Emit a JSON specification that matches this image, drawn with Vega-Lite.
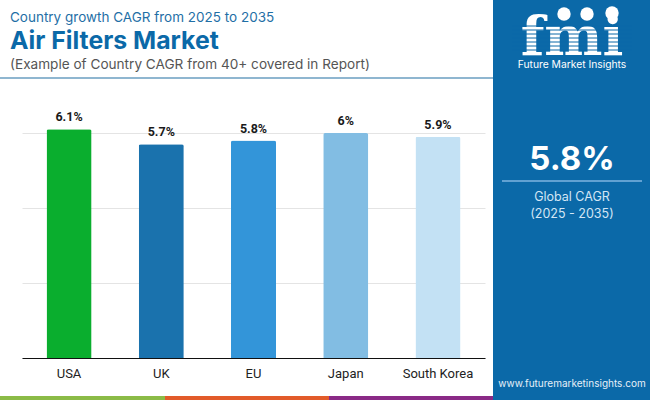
{
"$schema":"https://vega.github.io/schema/vega-lite/v6.json",
"width":463,"height":225,
"autosize":{"type":"none"},
"padding":{"left":22,"top":133,"right":165,"bottom":42},
"background":"white",
"config":{"view":{"stroke":null}},
"datasets":{
"bars":[
{"country":"USA","cagr":6.1,"label":"6.1%"},
{"country":"UK","cagr":5.7,"label":"5.7%"},
{"country":"EU","cagr":5.8,"label":"5.8%"},
{"country":"Japan","cagr":6.0,"label":"6%"},
{"country":"South Korea","cagr":5.9,"label":"5.9%"}]
},
"layer":[
{"data":{"name":"bars"},"mark":{"type":"bar","cornerRadiusTopLeft":2,"cornerRadiusTopRight":2},
 "encoding":{
  "x":{"field":"country","type":"nominal","sort":null,"scale":{"paddingInner":0.512,"paddingOuter":0.266},
   "axis":{"title":null,"labelAngle":0,"labelFont":"Roboto","labelFontSize":13,"labelColor":"#222222","labelPadding":9,"ticks":false,"domainColor":"#111111","domainWidth":1}},
  "y":{"field":"cagr","type":"quantitative","scale":{"domain":[0,6],"nice":false},
   "axis":{"title":null,"labels":false,"ticks":false,"domain":false,"values":[0,2,4,6],"grid":true,"gridColor":"#e4e4e4","gridWidth":1}},
  "color":{"field":"country","type":"nominal","sort":null,"legend":null,
   "scale":{"domain":["USA","UK","EU","Japan","South Korea"],"range":["#0aae2e","#1a72ad","#3395d9","#82bde3","#c3e1f4"]}}}},
{"data":{"name":"bars"},"mark":{"type":"text","font":"Roboto","fontWeight":"bold","fontSize":12.5,"color":"#1a1a1a","dy":-12},
 "encoding":{"x":{"field":"country","type":"nominal","sort":null},"y":{"field":"cagr","type":"quantitative"},"text":{"field":"label"}}},
{"data":{"values":[{"p":"panel"}]},"mark":{"type":"rect","color":"#0b69a8"},
 "encoding":{"x":{"value":471},"x2":{"value":628},"y":{"value":-133},"y2":{"value":267}}},
{"data":{"values":[{"p":"green"}]},"mark":{"type":"rect","color":"#8bbb47"},
 "encoding":{"x":{"value":-22},"x2":{"value":143},"y":{"value":263},"y2":{"value":267}}},
{"data":{"values":[{"p":"orange"}]},"mark":{"type":"rect","color":"#e25b2a"},
 "encoding":{"x":{"value":143},"x2":{"value":307},"y":{"value":263},"y2":{"value":267}}},
{"data":{"values":[{"p":"purple"}]},"mark":{"type":"rect","color":"#8a2a86"},
 "encoding":{"x":{"value":307},"x2":{"value":471},"y":{"value":263},"y2":{"value":267}}},
{"data":{"values":[{"p":"rule"}]},"mark":{"type":"rule","color":"#8fb6d0","strokeWidth":2},
 "encoding":{"x":{"value":-22},"x2":{"value":471},"y":{"value":-55}}},
{"data":{"values":[{"t":"Country growth CAGR from 2025 to 2035"}]},"mark":{"type":"text","font":"Inter","fontSize":13.5,"color":"#1f6fa6","align":"left","baseline":"alphabetic"},
 "encoding":{"x":{"value":-12},"y":{"value":-111},"text":{"field":"t"}}},
{"data":{"values":[{"t":"Air Filters Market"}]},"mark":{"type":"text","font":"Inter","fontSize":24.8,"fontWeight":"bold","color":"#0b69a8","align":"left","baseline":"alphabetic"},
 "encoding":{"x":{"value":-12},"y":{"value":-84},"text":{"field":"t"}}},
{"data":{"values":[{"t":"(Example of Country CAGR from 40+ covered in Report)"}]},"mark":{"type":"text","font":"Inter","fontSize":13.6,"color":"#555555","align":"left","baseline":"alphabetic"},
 "encoding":{"x":{"value":-12},"y":{"value":-64},"text":{"field":"t"}}},
{"data":{"values":[{"t":"5.8%"}]},"mark":{"type":"text","font":"Inter","fontSize":33,"fontWeight":"bold","color":"white","align":"center","baseline":"alphabetic"},
 "encoding":{"x":{"value":550},"y":{"value":37},"text":{"field":"t"}}},
{"data":{"values":[{"p":"r"}]},"mark":{"type":"rule","color":"#7fb4e0","strokeWidth":1.5},
 "encoding":{"x":{"value":480},"x2":{"value":620},"y":{"value":48}}},
{"data":{"values":[{"t":"Global CAGR"}]},"mark":{"type":"text","font":"Inter","fontSize":12.5,"color":"#d3e6f5","align":"center","baseline":"alphabetic"},
 "encoding":{"x":{"value":550},"y":{"value":68},"text":{"field":"t"}}},
{"data":{"values":[{"t":"(2025 - 2035)"}]},"mark":{"type":"text","font":"Inter","fontSize":12.5,"color":"#d3e6f5","align":"center","baseline":"alphabetic"},
 "encoding":{"x":{"value":550},"y":{"value":85},"text":{"field":"t"}}},
{"data":{"values":[{"t":"www.futuremarketinsights.com"}]},"mark":{"type":"text","font":"Inter","fontSize":10,"color":"#e6f0f8","align":"center","baseline":"alphabetic"},
 "encoding":{"x":{"value":550},"y":{"value":254},"text":{"field":"t"}}},
{"data":{"values":[{"t":"fmi"}]},"mark":{"type":"text","font":"DejaVu Serif","fontWeight":"bold","fontSize":55,"color":"white","align":"center","baseline":"alphabetic"},
 "encoding":{"x":{"value":550},"y":{"value":-78},"text":{"field":"t"}}},
{"data":{"values":[{"p":"s"}]},"mark":{"type":"rule","color":"#0b69a8","strokeWidth":1},"encoding":{"x":{"value":490},"x2":{"value":610},"y":{"value":-107}}},
{"data":{"values":[{"p":"s"}]},"mark":{"type":"rule","color":"#0b69a8","strokeWidth":1},"encoding":{"x":{"value":490},"x2":{"value":610},"y":{"value":-103}}},
{"data":{"values":[{"p":"s"}]},"mark":{"type":"rule","color":"#0b69a8","strokeWidth":1},"encoding":{"x":{"value":490},"x2":{"value":610},"y":{"value":-99}}},
{"data":{"values":[{"p":"s"}]},"mark":{"type":"rule","color":"#0b69a8","strokeWidth":1},"encoding":{"x":{"value":490},"x2":{"value":610},"y":{"value":-95}}},
{"data":{"values":[{"p":"s"}]},"mark":{"type":"rule","color":"#0b69a8","strokeWidth":1},"encoding":{"x":{"value":490},"x2":{"value":610},"y":{"value":-91}}},
{"data":{"values":[{"p":"s"}]},"mark":{"type":"rule","color":"#0b69a8","strokeWidth":1},"encoding":{"x":{"value":490},"x2":{"value":610},"y":{"value":-87}}},
{"data":{"values":[{"p":"s"}]},"mark":{"type":"rule","color":"#0b69a8","strokeWidth":1},"encoding":{"x":{"value":490},"x2":{"value":610},"y":{"value":-83}}},
{"data":{"values":[{"p":"c"}]},"mark":{"type":"point","filled":true,"opacity":1,"color":"white","size":180},"encoding":{"x":{"value":542},"y":{"value":-119}}},
{"data":{"values":[{"p":"c"}]},"mark":{"type":"point","filled":true,"opacity":1,"color":"white","size":180},"encoding":{"x":{"value":565},"y":{"value":-119}}},
{"data":{"values":[{"p":"c"}]},"mark":{"type":"point","filled":true,"opacity":1,"color":"white","size":180},"encoding":{"x":{"value":590},"y":{"value":-120}}},
{"data":{"values":[{"t":"Future Market Insights"}]},"mark":{"type":"text","font":"Inter","fontSize":10.3,"color":"white","align":"center","baseline":"alphabetic"},
 "encoding":{"x":{"value":550},"y":{"value":-65},"text":{"field":"t"}}}
]
}
